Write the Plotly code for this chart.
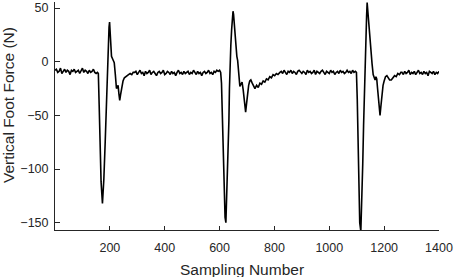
import plotly.graph_objects as go

# ---- data ----
# quiet baseline segments: start sample, step, values
base1_start, base1_step = 0, 5
base1 = [-8, -7, -10, -9, -6, -11, -9, -7, -10, -8, -9, -12, -8, -9, -7, -10,
         -9, -8, -11, -9, -6, -10, -8, -9, -11, -8, -10, -9, -7, -10, -11, -10]

event1_x = [158, 161, 164, 168, 173, 178, 183, 187, 191, 194, 197, 199, 202, 206,
            211, 216, 220, 224, 227, 230, 233, 236, 239, 243, 248, 253, 257, 262,
            268, 274, 280, 285]
event1_y = [-11, -40, -80, -112, -132, -110, -75, -40, -5, 15, 32, 37, 25, 5,
            2, -1, -12, -25, -24, -22, -30, -36, -31, -24, -18, -15, -14, -13,
            -12, -11, -12, -10]

base2_start, base2_step = 290, 5
base2 = [-10, -9, -12, -10, -8, -11, -10, -13, -9, -11,
         -10, -8, -12, -10, -9, -11, -13, -10, -9, -11,
         -10, -8, -12, -11, -9, -10, -12, -9, -11, -10,
         -13, -10, -8, -11, -10, -12, -9, -11, -10, -9,
         -12, -10, -11, -8, -10, -12, -9, -11, -10, -13,
         -10, -9, -11, -10, -8, -11, -10, -12, -9, -10,
         -8, -9, -8]

event2_x = [604, 607, 610, 613, 617, 620, 623, 627, 631, 634, 636, 638, 641, 644,
            647, 649, 651, 654, 657, 660, 663, 666, 670, 674, 678, 682, 686, 690,
            693, 695, 698, 702, 706, 710, 714, 719, 724, 729, 735, 741, 747, 753,
            759, 765, 771, 777, 783, 789, 795, 801, 807, 813]
event2_y = [-10, -20, -55, -95, -130, -145, -150, -120, -85, -55, -25, 0, 15, 30,
            42, 47, 44, 32, 20, 12, 5, 1, -12, -23, -21, -19, -26, -36,
            -44, -47, -40, -30, -22, -18, -17, -20, -23, -25, -22, -24, -20, -21,
            -18, -19, -16, -17, -14, -15, -12, -13, -11, -12]

base3_start, base3_step = 820, 5
base3 = [-10, -9, -11, -8, -10, -12, -9, -10, -8, -11,
         -9, -10, -12, -9, -8, -10, -11, -9, -10, -12,
         -8, -10, -9, -11, -10, -8, -12, -9, -10, -11,
         -9, -8, -10, -12, -9, -10, -11, -8, -10, -9,
         -12, -10, -9, -11, -8, -10, -9, -11, -10, -8,
         -10, -9, -11, -8, -10, -9]

event3_x = [1099, 1102, 1105, 1108, 1111, 1115, 1119, 1122, 1125, 1128, 1131, 1134,
            1136, 1138, 1140, 1143, 1146, 1149, 1152, 1156, 1160, 1164, 1167, 1170,
            1173, 1176, 1179, 1182, 1185, 1188, 1192, 1196, 1200, 1205, 1210, 1215,
            1220, 1226, 1232, 1238, 1244, 1250, 1256, 1261]
event3_y = [-10, -35, -80, -125, -150, -158, -130, -95, -60, -25, 0, 25,
            42, 55, 48, 35, 24, 16, 8, -2, -12, -16, -17, -14,
            -16, -25, -35, -44, -50, -42, -30, -22, -18, -14, -13, -15,
            -17, -17, -15, -13, -14, -11, -12, -10]

base4_start, base4_step = 1265, 5
base4 = [-10, -12, -9, -11, -10, -8, -12, -10, -11, -9,
         -12, -10, -8, -11, -10, -12, -9, -11, -10, -13,
         -9, -10, -11, -9, -12, -10, -11, -9]

x_ticks = [200, 400, 600, 800, 1000, 1200, 1400]
y_ticks = [-150, -100, -50, 0, 50]


def seg(start, step, vals):
    return [start + step * i for i in range(len(vals))], list(vals)


sample, force = [], []
for xs, ys in [seg(base1_start, base1_step, base1), (event1_x, event1_y),
               seg(base2_start, base2_step, base2), (event2_x, event2_y),
               seg(base3_start, base3_step, base3), (event3_x, event3_y),
               seg(base4_start, base4_step, base4)]:
    sample += xs
    force += ys

AX = "#262626"
FONT = "Liberation Sans, Arial, sans-serif"

fig = go.Figure()
fig.add_trace(go.Scatter(x=sample, y=force, mode="lines",
                         line=dict(color="black", width=1.6), hoverinfo="skip"))

fig.update_layout(
    width=457, height=277,
    margin=dict(l=55, r=18, t=2, b=47),
    paper_bgcolor="white", plot_bgcolor="white",
    showlegend=False,
    font=dict(family=FONT, color=AX, size=12.5),
    xaxis=dict(range=[0, 1400], tickvals=x_ticks, ticks="inside", ticklen=4,
               tickcolor=AX, tickwidth=1, showline=True, linecolor=AX, linewidth=1,
               showgrid=False, zeroline=False, ticklabelstandoff=6,
               tickfont=dict(size=12.5, color=AX)),
    yaxis=dict(range=[-156.8, 55.6], tickvals=y_ticks, ticks="inside", ticklen=5,
               tickcolor=AX, tickwidth=1, showline=True, linecolor=AX, linewidth=1,
               showgrid=False, zeroline=False, ticklabelstandoff=3,
               tickfont=dict(size=12.5, color=AX)),
    annotations=[
        dict(text="Sampling Number", xref="paper", yref="paper",
             x=(242 - 55) / 384, y=(230 - 259) / 228, xanchor="center", yanchor="top",
             showarrow=False, font=dict(size=15.5, color=AX, family=FONT)),
        dict(text="Vertical Foot Force (N)", xref="paper", yref="paper",
             x=(9 - 55) / 384, y=(230 - 105) / 228, xanchor="center", yanchor="middle",
             textangle=-90, showarrow=False, font=dict(size=15.5, color=AX, family=FONT)),
    ],
)

fig.write_html("out.html", config={"displayModeBar": False},
               post_script="document.body.style.margin='0';document.body.style.padding='0';")
